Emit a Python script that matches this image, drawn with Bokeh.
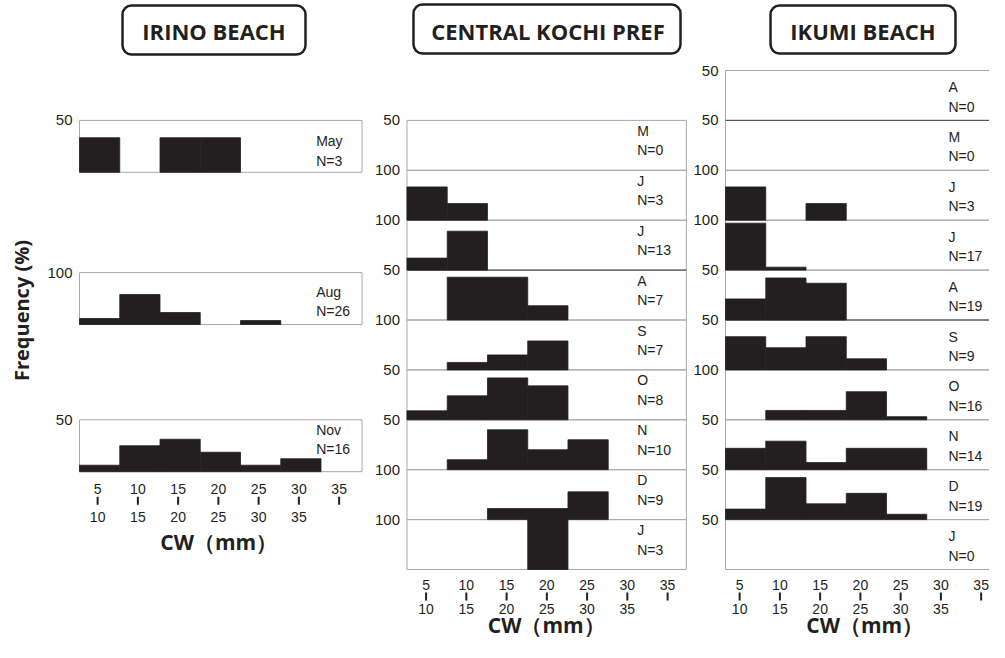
import math
from bokeh.plotting import figure
from bokeh.models import Range1d, BoxAnnotation
from bokeh.core.properties import value
from bokeh.embed import file_html
from bokeh.resources import INLINE

# ---------------- data ----------------
bin_lo = ["5", "10", "15", "20", "25", "30", "35"]
bin_hi = ["10", "15", "20", "25", "30", "35", ""]

irino_months = ["May", "Aug", "Nov"]
irino_n = [3, 26, 16]
irino_max = [50, 100, 50]
irino_may = [33.3, 0, 33.3, 33.3, 0, 0]
irino_aug = [11.5, 57.7, 23.1, 0, 7.7, 0]
irino_nov = [6.25, 25, 31.25, 18.75, 6.25, 12.5]

central_months = ["M", "J", "J", "A", "S", "O", "N", "D", "J"]
central_n = [0, 3, 13, 7, 7, 8, 10, 9, 3]
central_max = [50, 100, 100, 50, 100, 50, 50, 100, 100]
central_m = [0, 0, 0, 0, 0, 0]
central_j1 = [66.7, 33.3, 0, 0, 0, 0]
central_j2 = [24, 78, 0, 0, 0, 0]
central_a = [0, 42.9, 42.9, 14.3, 0, 0]
central_s = [0, 15, 30, 58, 0, 0]
central_o = [9, 24, 42, 34, 0, 0]
central_nv = [0, 10, 40, 20, 30, 0]
central_d = [0, 0, 22.2, 22.2, 55.6, 0]
central_j3 = [0, 0, 0, 100, 0, 0]

ikumi_months = ["A", "M", "J", "J", "A", "S", "O", "N", "D", "J"]
ikumi_n = [0, 0, 3, 17, 19, 9, 16, 14, 19, 0]
ikumi_max = [50, 50, 100, 100, 50, 50, 100, 50, 50, 50]
ikumi_a1 = [0, 0, 0, 0, 0, 0]
ikumi_m = [0, 0, 0, 0, 0, 0]
ikumi_j1 = [66.7, 0, 33.3, 0, 0, 0]
ikumi_j2 = [94.1, 5.9, 0, 0, 0, 0]
ikumi_a2 = [21.1, 42.1, 36.8, 0, 0, 0]
ikumi_s = [33.3, 22.2, 33.3, 11.1, 0, 0]
ikumi_o = [0, 18.75, 18.75, 56.25, 6.25, 0]
ikumi_nv = [21.4, 28.6, 7.1, 21.4, 21.4, 0]
ikumi_d = [10.5, 42.1, 15.8, 26.3, 5.3, 0]
ikumi_j3 = [0, 0, 0, 0, 0, 0]

# ---------------- layout ----------------
W, H = 989, 642
SHIFT = 8
PX_MM = 8.05
SLOT = 49.9
INK = "#231f20"
FRAME = "#a8a8a8"
LAB_FONT = value("Liberation Sans")
BOLD_FONT = value("Open Sans")


def X(ref):
    return 5 + (ref - 79) / PX_MM


def Y(ref):
    return (577 - ref) / SLOT


p = figure(width=W, height=H, x_range=Range1d(X(0), X(W)),
           y_range=Range1d(Y(H + SHIFT), Y(SHIFT)),
           output_backend="svg", toolbar_location=None, x_axis_location=None, y_axis_location=None,
           min_border=0, outline_line_color=None)
p.grid.visible = False


def draw_column(off, tops, h, maxes, months, ns, pct, right, label_x, label_dy, tick_shift,
                tick_dy, cw_dy, dark=()):
    n = len(tops)
    left = off + 5
    bottoms = [t - h for t in tops]
    p.quad(left=[left] * n, right=[off + right] * n, top=tops, bottom=bottoms,
           fill_color=None, line_color=FRAME, line_width=1)
    for yd in dark:
        p.segment(x0=[left], y0=[yd], x1=[off + right], y1=[yd], line_color="#4a4a4a", line_width=1)
    L, R, B, T = [], [], [], []
    for t, M, vals in zip(tops, maxes, pct):
        for i, v in enumerate(vals):
            if v > 0:
                L.append(off + 5 + 5 * i)
                R.append(off + 10 + 5 * i)
                B.append(t - h)
                T.append(t - h + h * v / M)
    p.quad(left=L, right=R, bottom=B, top=T, fill_color=INK, line_color=INK, line_width=0.8)
    # y labels
    p.text(x=[left - 7 / PX_MM] * n, y=tops, text=[str(M) for M in maxes],
           text_align="right", text_baseline="middle", text_font=LAB_FONT,
           text_font_size="15px", text_color=INK)
    # month / N labels
    dys = label_dy if isinstance(label_dy, list) else [label_dy] * n
    p.text(x=[off + label_x] * n, y=[t - d / SLOT for t, d in zip(tops, dys)], text=months,
           text_align="left", text_baseline="middle", text_font=LAB_FONT,
           text_font_size="14px", text_color=INK)
    p.text(x=[off + label_x] * n, y=[t - (d + 19.5) / SLOT for t, d in zip(tops, dys)],
           text=["N=%d" % k for k in ns],
           text_align="left", text_baseline="middle", text_font=LAB_FONT,
           text_font_size="14px", text_color=INK)
    # x ticks
    bot = bottoms[-1]
    a, b0, b1, c = tick_dy
    cx = [off + 7.5 + 5 * i + tick_shift / PX_MM for i in range(len(bin_lo))]
    p.text(x=cx, y=[bot - a / SLOT] * len(cx), text=bin_lo, text_align="center",
           text_baseline="middle", text_font=LAB_FONT, text_font_size="14px", text_color=INK)
    p.segment(x0=cx, y0=[bot - b0 / SLOT] * len(cx), x1=cx, y1=[bot - b1 / SLOT] * len(cx),
              line_color=INK, line_width=2)
    p.text(x=cx, y=[bot - c / SLOT] * len(cx), text=bin_hi, text_align="center",
           text_baseline="middle", text_font=LAB_FONT, text_font_size="14px", text_color=INK)
    p.text(x=[off + 22.3], y=[bot - cw_dy / SLOT], text=["CW（mm）"], text_align="center",
           text_baseline="middle", text_font=BOLD_FONT, text_font_style="bold",
           text_font_size="21px", text_color=INK)


# Irino
draw_column(0, [9.0, 5.95, 3.0], 1.04, irino_max, irino_months, irino_n,
            [irino_may, irino_aug, irino_nov], 40.1, 34.4, [21, 19, 10], -2,
            (17, 25, 33, 45), 70)
# Central
draw_column(40.68, [9 - i for i in range(9)], 1.0, central_max, central_months, central_n,
            [central_m, central_j1, central_j2, central_a, central_s, central_o, central_nv,
             central_d, central_j3], 39.7, 33.6, 10.5, -1, (15, 23, 31, 39), 55, dark=(6,))
# Ikumi
draw_column(80.25, [10 - i for i in range(10)], 1.0, ikumi_max, ikumi_months, ikumi_n,
            [ikumi_a1, ikumi_m, ikumi_j1, ikumi_j2, ikumi_a2, ikumi_s, ikumi_o, ikumi_nv,
             ikumi_d, ikumi_j3], 41.5, 32.7, 16.5, -6, (15, 23, 31, 39), 55, dark=(9, 5))

# titles
titles = ["IRINO BEACH", "CENTRAL KOCHI PREF", "IKUMI BEACH"]
boxes = [(122, 305, 13, 62), (413, 680, 12, 61), (770, 955, 13, 61)]
for (l, r, t, b) in boxes:
    p.add_layout(BoxAnnotation(left=X(l), right=X(r), top=Y(t), bottom=Y(b),
                               fill_color=None, fill_alpha=0, line_color=INK, line_alpha=1,
                               line_width=2.5, border_radius=9))
p.text(x=[X(213.5), X(547.5), X(862.5)], y=[Y(38)] * 3, text=titles, text_align="center",
       text_baseline="middle", text_font=BOLD_FONT, text_font_style="bold",
       text_font_size="22px", text_color=INK)

# y-axis title
p.text(x=[X(21)], y=[Y(318)], text=["Frequency (%)"], angle=math.pi / 2, text_align="center",
       text_baseline="middle", text_font=BOLD_FONT, text_font_style="bold",
       text_font_size="20px", text_color=INK)

open("out.html", "w").write(file_html(p, INLINE))
